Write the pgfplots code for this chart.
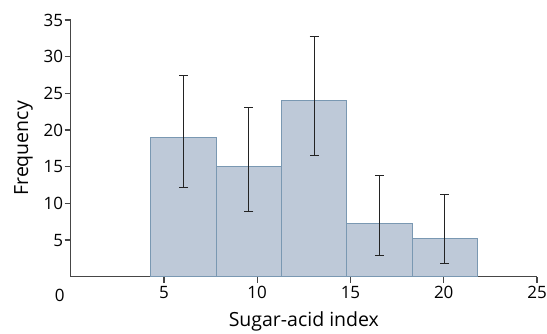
\documentclass[border=0pt]{standalone}
\usepackage{pgfplots}
\pgfplotsset{compat=1.18}
\usepackage{fontspec}
\setmainfont{Open Sans}
\definecolor{barfill}{RGB}{190,201,216}
\definecolor{baredge}{RGB}{122,152,178}
\definecolor{axisgray}{RGB}{70,70,70}
\definecolor{errcol}{RGB}{35,35,35}
\begin{document}
\begin{tikzpicture}
\useasboundingbox (-70.7pt,-56.3pt) rectangle (476.3pt,276.7pt);
\begin{axis}[
  at={(0pt,0pt)}, anchor=south west,
  scale only axis, width=466.3pt, height=256.7pt,
  xmin=0, xmax=25, ymin=0, ymax=35,
  axis lines*=left,
  axis line style={axisgray, line width=1.2pt},
  xtick={5,10,15,20,25}, ytick={5,10,...,35},
  tick align=outside,
  major tick length=6pt,
  every tick/.style={axisgray, line width=1.2pt},
  tick label style={font=\fontsize{17}{20}\selectfont, text=black},
  yticklabel style={xshift=2pt},
  label style={font=\fontsize{19.5}{22}\selectfont},
  /pgf/number format/assume math mode=true,
  xlabel={Sugar-acid index}, ylabel={Frequency},
  xlabel style={yshift=-6pt},
  ylabel style={yshift=4pt},
  clip=false,
]
\addplot[ybar, bar width=3.5, bar shift=0pt, fill=barfill, draw=baredge, line width=1pt,
  error bars/.cd, y dir=both, y explicit,
  error bar style={line width=1pt, errcol},
  error mark options={rotate=90, mark size=4.5pt, line width=1pt, errcol}]
  coordinates {
    (6.05,19) += (0,8.5) -= (0,6.9)
    (9.55,15.05) += (0,8.0) -= (0,6.2)
    (13.05,24) += (0,8.7) -= (0,7.5)
    (16.55,7.2) += (0,6.6) -= (0,4.3)
    (20.05,5.15) += (0,6.1) -= (0,3.4)
  };
\node[font=\fontsize{17}{20}\selectfont, anchor=north] at (axis cs:0,0) [xshift=-11pt, yshift=-9pt] {0};
\end{axis}
\end{tikzpicture}
\end{document}
